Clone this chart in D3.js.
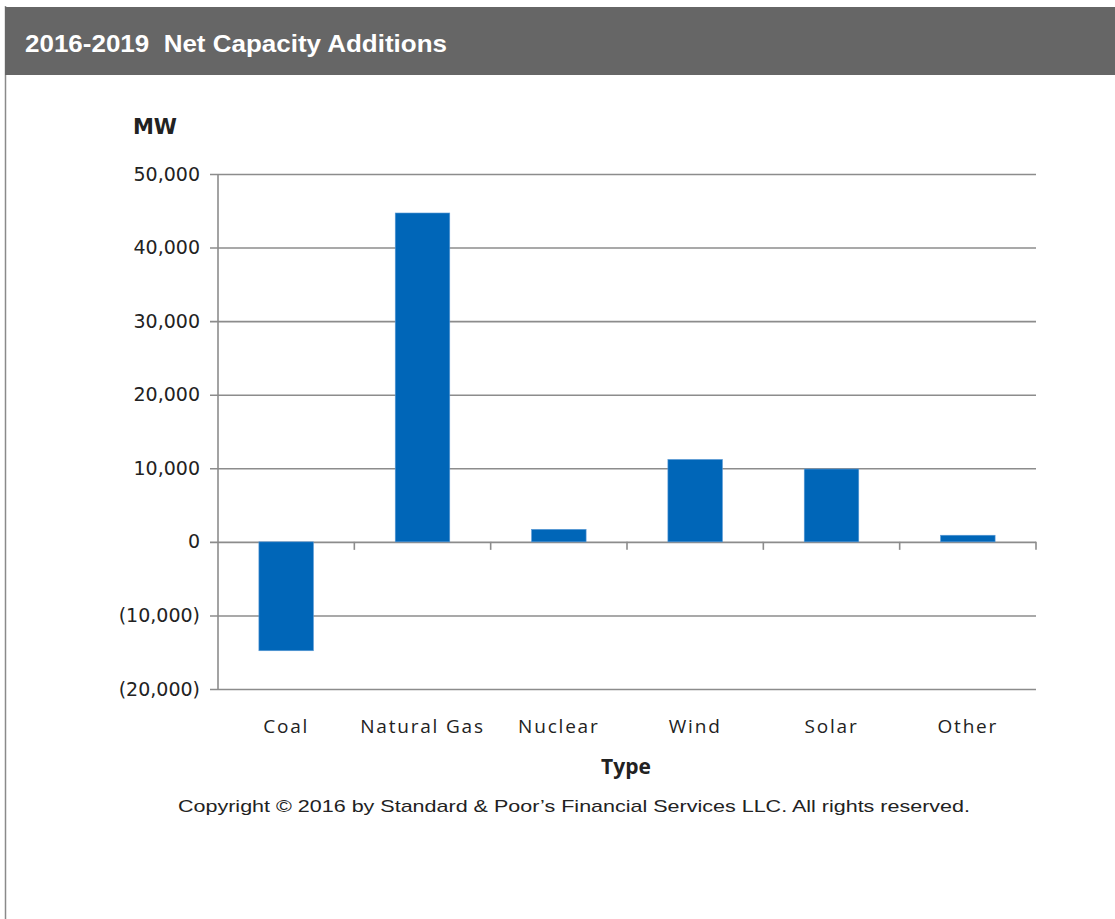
<!DOCTYPE html>
<html>
<head>
<meta charset="utf-8">
<script src="https://cdn.jsdelivr.net/npm/d3@7"></script>
<style>
  html, body { margin: 0; padding: 0; background: #fff; }
  svg { display: block; }
</style>
</head>
<body>
<svg id="chart" width="1115" height="919"></svg>
<script>
// Net capacity additions by generation type, 2016-2019 (MW)
const categories = ["Coal", "Natural Gas", "Nuclear", "Wind", "Solar", "Other"];
const values = [-14800, 44700, 1700, 11200, 9900, 900];
const yTicks = [-20000, -10000, 0, 10000, 20000, 30000, 40000, 50000];

const title = "2016-2019  Net Capacity Additions";
const yUnit = "MW";
const xTitle = "Type";
const footnote = "Copyright \u00A9 2016 by Standard & Poor\u2019s Financial Services LLC. All rights reserved.";

const svg = d3.select("#chart");
const W = 1115, H = 919;

// Panel frame and header band
svg.append("line").attr("x1", 5.5).attr("x2", 5.5).attr("y1", 6).attr("y2", H)
  .attr("stroke", "#8a8a8a").attr("stroke-width", 1.5);
svg.append("rect").attr("x", 5).attr("y", 7).attr("width", W - 5).attr("height", 68)
  .attr("fill", "#666666");
svg.append("text").attr("x", 25).attr("y", 52)
  .attr("font-family", "Liberation Sans, Arial, sans-serif")
  .attr("font-weight", "bold").attr("font-size", 24).attr("fill", "#ffffff")
  .style("white-space", "pre")
  .attr("textLength", 422).attr("lengthAdjust", "spacingAndGlyphs")
  .text(title);

// Plot area
const plot = { left: 218, right: 1036, top: 174, bottom: 689 };

const x = d3.scaleBand().domain(categories).range([plot.left, plot.right])
  .paddingInner(0.6).paddingOuter(0.3);
const xb = d3.scaleBand().domain(categories).range([plot.left, plot.right]);
const y = d3.scaleLinear().domain([-20000, 50000]).range([plot.bottom, plot.top]);

const fmt = v => {
  const s = d3.format(",")(Math.abs(v));
  return v < 0 ? "(" + s + ")" : s;
};

const gridColor = "#8c8c8c";

// Horizontal gridlines with small left tick stubs
const gy = svg.append("g").attr("transform", `translate(${plot.right},0)`);
gy.call(d3.axisLeft(y).tickValues(yTicks).tickSize(plot.right - plot.left + 8).tickFormat(""));
gy.select(".domain").remove();
gy.selectAll(".tick line").attr("stroke", gridColor).attr("stroke-width", 1.6);

// Y tick labels
const gl = svg.append("g").attr("transform", `translate(${plot.left},0)`);
gl.call(d3.axisLeft(y).tickValues(yTicks).tickSize(0).tickPadding(18).tickFormat(fmt));
gl.select(".domain").remove();
gl.selectAll(".tick text")
  .attr("font-family", "DejaVu Sans, Verdana, sans-serif")
  .attr("font-size", 19).attr("fill", "#222");

// Vertical axis line
svg.append("line").attr("x1", plot.left).attr("x2", plot.left)
  .attr("y1", y(50000)).attr("y2", y(-20000))
  .attr("stroke", gridColor).attr("stroke-width", 1.6);

// Bars
svg.append("g").selectAll("rect").data(categories).join("rect")
  .attr("x", d => x(d))
  .attr("width", x.bandwidth())
  .attr("y", (d, i) => y(Math.max(0, values[i])))
  .attr("height", (d, i) => Math.abs(y(values[i]) - y(0)))
  .attr("fill", "#0066b8")
  .attr("stroke", "#5a9ad6").attr("stroke-width", 0.6);

// Category tick marks on the zero line
const boundaries = categories.map(c => xb(c)).concat([plot.right]).slice(1);
svg.append("g").selectAll("line").data(boundaries).join("line")
  .attr("x1", d => d).attr("x2", d => d)
  .attr("y1", y(0)).attr("y2", y(0) + 8)
  .attr("stroke", gridColor).attr("stroke-width", 1.6);

// Category labels
svg.append("g").selectAll("text").data(categories).join("text")
  .attr("x", d => xb(d) + xb.bandwidth() / 2)
  .attr("y", 733)
  .attr("text-anchor", "middle")
  .attr("font-family", "Open Sans, sans-serif")
  .attr("font-size", 19).attr("letter-spacing", 1.8).attr("fill", "#222")
  .text(d => d);

// Axis titles
svg.append("text").attr("x", 155).attr("y", 134).attr("text-anchor", "middle")
  .attr("font-family", "DejaVu Sans, Verdana, sans-serif")
  .attr("font-weight", "bold").attr("font-size", 21).attr("fill", "#222")
  .text(yUnit);
svg.append("text").attr("x", 626).attr("y", 774).attr("text-anchor", "middle")
  .attr("font-family", "Open Sans, sans-serif")
  .attr("font-weight", "bold").attr("font-size", 21).attr("fill", "#222")
  .text(xTitle);

// Footnote
svg.append("text").attr("x", 178).attr("y", 812)
  .attr("font-family", "Liberation Sans, Arial, sans-serif")
  .attr("font-size", 17).attr("fill", "#222")
  .attr("textLength", 792).attr("lengthAdjust", "spacingAndGlyphs")
  .text(footnote);
</script>
</body>
</html>
